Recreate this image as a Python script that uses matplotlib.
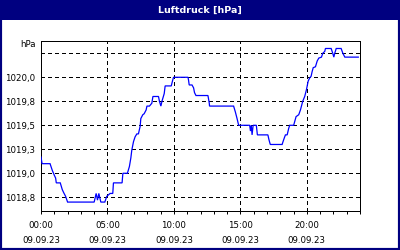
import matplotlib
matplotlib.use("Agg")
import matplotlib.pyplot as plt
from matplotlib.patches import Rectangle

# ---- data (hours since 09.09.23 00:00, pressure in hPa) ----
hours = [0.00, 0.08, 0.68, 0.85, 1.00, 1.10, 1.15, 1.45, 1.60, 1.70, 1.85, 2.00,
         4.00, 4.15, 4.25, 4.35, 4.50, 4.65, 4.80, 4.95, 5.20, 5.40, 5.45, 6.10,
         6.16, 6.50, 6.65, 6.76, 6.83, 6.96, 7.08, 7.21, 7.33, 7.46, 7.51, 7.66,
         7.76, 7.91, 7.97, 8.16, 8.34, 8.42, 8.84, 8.91, 9.02, 9.10, 9.27, 9.34,
         9.80, 9.89, 9.97, 11.06, 11.10, 11.15, 11.36, 11.48, 11.55, 11.66, 12.56,
         12.61, 12.66, 12.68, 14.49, 14.62, 14.75, 14.87, 15.70, 15.76, 15.82,
         15.88, 15.96, 16.20, 16.28, 17.07, 17.15, 17.25, 18.14, 18.21, 18.31,
         18.39, 18.52, 18.64, 18.71, 19.01, 19.09, 19.19, 19.39, 19.52, 19.69,
         19.84, 19.97, 20.10, 20.20, 20.32, 20.40, 20.48, 20.65, 20.78, 20.90,
         21.10, 21.20, 21.35, 21.40, 21.83, 21.95, 22.03, 22.10, 22.21, 22.58,
         22.71, 22.86, 23.87]
pressure = [1019.17, 1019.10, 1019.10, 1019.03, 1018.98, 1018.95, 1018.90, 1018.90,
            1018.83, 1018.80, 1018.76, 1018.70, 1018.70, 1018.79, 1018.72, 1018.79,
            1018.70, 1018.70, 1018.70, 1018.76, 1018.79, 1018.79, 1018.90, 1018.90,
            1019.00, 1019.00, 1019.07, 1019.16, 1019.24, 1019.33, 1019.38, 1019.41,
            1019.41, 1019.49, 1019.57, 1019.61, 1019.62, 1019.66, 1019.70, 1019.70,
            1019.73, 1019.80, 1019.80, 1019.75, 1019.70, 1019.75, 1019.83, 1019.91,
            1019.91, 1019.96, 1020.00, 1020.00, 1019.97, 1019.92, 1019.92, 1019.89,
            1019.84, 1019.81, 1019.81, 1019.77, 1019.73, 1019.70, 1019.70, 1019.64,
            1019.57, 1019.50, 1019.50, 1019.44, 1019.50, 1019.40, 1019.50, 1019.50,
            1019.40, 1019.40, 1019.35, 1019.30, 1019.30, 1019.33, 1019.37, 1019.40,
            1019.40, 1019.47, 1019.50, 1019.50, 1019.54, 1019.59, 1019.61, 1019.66,
            1019.75, 1019.80, 1019.87, 1019.96, 1019.99, 1020.01, 1020.06, 1020.10,
            1020.11, 1020.17, 1020.20, 1020.21, 1020.25, 1020.27, 1020.30, 1020.30,
            1020.25, 1020.21, 1020.25, 1020.30, 1020.30, 1020.25, 1020.21, 1020.21]

x_ticks = [0, 5, 10, 15, 20]
x_labels = ["00:00\n09.09.23", "05:00\n09.09.23", "10:00\n09.09.23",
            "15:00\n09.09.23", "20:00\n09.09.23"]
y_ticks = [1018.75, 1019.0, 1019.25, 1019.5, 1019.75, 1020.0, 1020.25]
y_labels = ["1018,8", "1019,0", "1019,3", "1019,5", "1019,8", "1020,0", ""]
title = "Luftdruck [hPa]"
unit = "hPa"

NAVY = "#000080"
plt.rcParams["font.family"] = ["DejaVu Sans"]
plt.rcParams["lines.scale_dashes"] = False

W, H = 400, 250
fig = plt.figure(figsize=(W / 100, H / 100), dpi=100)
fig.patch.set_facecolor("white")

# border and title bar
fig.patches.append(Rectangle((0, 0), 1, 1, transform=fig.transFigure,
                             facecolor="none", edgecolor=NAVY, linewidth=3.0))
fig.patches.append(Rectangle((0, 1 - 20 / H), 1, 20 / H, transform=fig.transFigure,
                             facecolor=NAVY, edgecolor="none"))
fig.text(0.5, 1 - 10 / H, title, color="white", fontsize=6.8, fontweight="bold",
         ha="center", va="center")

left, right, top, bottom = 41, 360, 41, 211
ax = fig.add_axes([left / W, 1 - bottom / H, (right - left) / W, (bottom - top) / H])
ax.set_facecolor("white")

ax.plot(hours, pressure, color="#0000FF", linewidth=0.9, antialiased=True,
        solid_joinstyle="miter", zorder=3)

ax.set_xlim(0, 24)
ax.set_ylim(1018.607, 1020.378)
ax.set_xticks(x_ticks)
ax.set_xticklabels(x_labels, fontsize=6.2, linespacing=1.85)
ax.set_xticks(range(0, 25), minor=True)
ax.set_yticks(y_ticks)
ax.set_yticklabels(y_labels, fontsize=6.2)

ax.tick_params(axis="x", which="both", direction="out", length=2, width=0.72,
               pad=5, colors="black")
ax.tick_params(axis="y", which="both", length=0, pad=4, colors="black")

ax.grid(True, which="major", color="black", linestyle=(0, (2.2, 2.2)),
        linewidth=0.72, antialiased=False)
for s in ax.spines.values():
    s.set_color("black")
    s.set_linewidth(0.72)

fig.text(36 / W, 1 - 45 / H, unit, fontsize=6.2, ha="right", va="center")

fig.savefig("out.png", dpi=100, facecolor="white")
